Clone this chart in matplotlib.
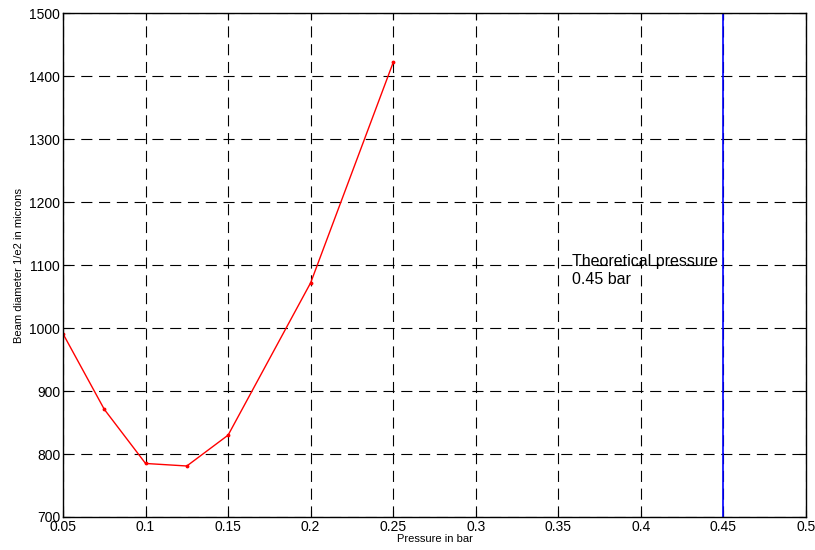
import matplotlib
matplotlib.use("Agg")
import matplotlib.pyplot as plt

# Beam diameter vs pressure
pressure = [0.05, 0.075, 0.1, 0.125, 0.15, 0.2, 0.25]
diameter = [991, 871, 785, 781, 830, 1072, 1422]
theory_p = 0.45
xticks = [0.05, 0.1, 0.15, 0.2, 0.25, 0.3, 0.35, 0.4, 0.45, 0.5]
yticks = [700, 800, 900, 1000, 1100, 1200, 1300, 1400, 1500]

plt.rcParams['font.family'] = ['Liberation Sans', 'DejaVu Sans']

fig = plt.figure(figsize=(8.15, 5.5), dpi=100)
ax = fig.add_axes([0.0773, 0.06, 0.9117, 0.916])

ax.plot(pressure, diameter, color='red', lw=1, marker='.', markersize=3.5)
ax.plot([theory_p, theory_p], [700, 1500], color='blue', lw=1.2)
ax.text(0.358, 1091, "Theoretical pressure\n0.45 bar", fontsize=11.5,
        va='center', ha='left', linespacing=1.25)

ax.set_xlim(0.05, 0.5)
ax.set_ylim(700, 1500)
ax.set_xticks(xticks)
ax.set_xticklabels([f"{v:g}" for v in xticks])
ax.set_yticks(yticks)
ax.tick_params(direction='in', length=5, labelsize=10, pad=2, top=True, right=True)
ax.grid(True, color='black', linestyle=(0, (10, 6)), lw=0.8)
for s in ax.spines.values():
    s.set_linewidth(1.0)

ax.set_xlabel("Pressure in bar", fontsize=8, labelpad=0)
ax.set_ylabel("Beam diameter 1/e2 in microns", fontsize=8, labelpad=4)

plt.savefig("out.png", dpi=100)
